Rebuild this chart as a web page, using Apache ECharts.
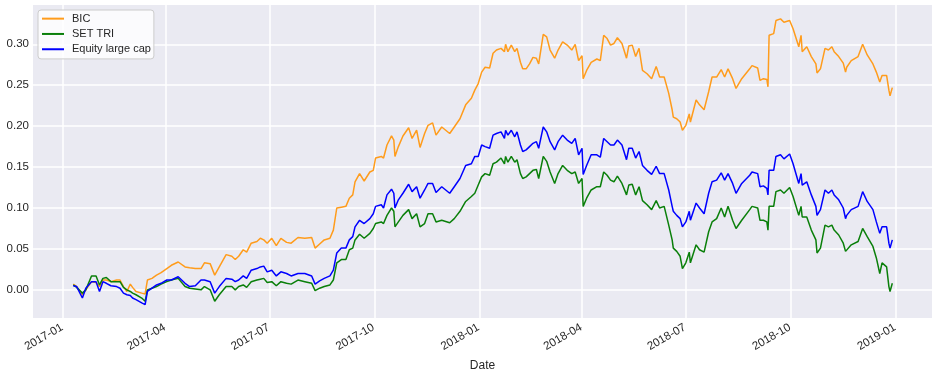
<!DOCTYPE html>
<html>
<head>
<meta charset="utf-8">
<script src="https://cdn.jsdelivr.net/npm/echarts@6/dist/echarts.min.js"></script>
<style>
html,body{margin:0;padding:0;background:#ffffff;}
#chart{width:936px;height:374px;}
</style>
</head>
<body>
<div id="chart"></div>
<script>
var dates = [
'2017-01-10','2017-01-13','2017-01-18','2017-01-21','2017-01-26','2017-01-30','2017-02-02','2017-02-05','2017-02-08','2017-02-12',
'2017-02-17','2017-02-20','2017-02-23','2017-02-26','2017-03-01','2017-03-03','2017-03-06','2017-03-11','2017-03-14','2017-03-16',
'2017-03-20','2017-03-24','2017-03-28','2017-04-02','2017-04-06','2017-04-12','2017-04-18','2017-04-22','2017-04-27','2017-05-02',
'2017-05-05','2017-05-10','2017-05-14','2017-05-18','2017-05-24','2017-05-29','2017-06-01','2017-06-04','2017-06-08','2017-06-11',
'2017-06-15','2017-06-20','2017-06-23','2017-06-26','2017-06-29','2017-07-03','2017-07-07','2017-07-11','2017-07-16','2017-07-20',
'2017-07-26','2017-08-01','2017-08-07','2017-08-10','2017-08-14','2017-08-18','2017-08-23','2017-08-26','2017-08-29','2017-09-02',
'2017-09-06','2017-09-09','2017-09-12','2017-09-14','2017-09-18','2017-09-22','2017-09-27','2017-09-30','2017-10-02','2017-10-07',
'2017-10-09','2017-10-12','2017-10-16','2017-10-18','2017-10-19','2017-10-22','2017-10-26','2017-10-31','2017-11-03','2017-11-07',
'2017-11-10','2017-11-14','2017-11-17','2017-11-21','2017-11-24','2017-11-29','2017-12-06','2017-12-10','2017-12-15','2017-12-20',
'2017-12-25','2017-12-28','2017-12-31','2018-01-03','2018-01-06','2018-01-10','2018-01-13','2018-01-16','2018-01-20','2018-01-23',
'2018-01-24','2018-01-26','2018-01-29','2018-02-01','2018-02-03','2018-02-06','2018-02-08','2018-02-11','2018-02-14','2018-02-17',
'2018-02-20','2018-02-22','2018-02-26','2018-03-01','2018-03-04','2018-03-08','2018-03-11','2018-03-15','2018-03-19','2018-03-23',
'2018-03-26','2018-03-29','2018-04-01','2018-04-02','2018-04-05','2018-04-09','2018-04-14','2018-04-17','2018-04-20','2018-04-23',
'2018-04-26','2018-04-29','2018-05-02','2018-05-06','2018-05-10','2018-05-12','2018-05-15','2018-05-18','2018-05-21','2018-05-24',
'2018-05-28','2018-06-01','2018-06-05','2018-06-08','2018-06-12','2018-06-16','2018-06-19','2018-06-20','2018-06-23','2018-06-26',
'2018-06-28','2018-07-01','2018-07-04','2018-07-05','2018-07-10','2018-07-13','2018-07-17','2018-07-21','2018-07-24','2018-07-28',
'2018-08-01','2018-08-04','2018-08-07','2018-08-11','2018-08-14','2018-08-19','2018-08-26','2018-08-28','2018-09-02','2018-09-04',
'2018-09-07','2018-09-10','2018-09-11','2018-09-12','2018-09-16','2018-09-18','2018-09-22','2018-09-25','2018-09-30','2018-10-03',
'2018-10-08','2018-10-10','2018-10-11','2018-10-15','2018-10-19','2018-10-23','2018-10-24','2018-10-27','2018-10-31','2018-11-03',
'2018-11-06','2018-11-08','2018-11-12','2018-11-16','2018-11-18','2018-11-19','2018-11-23','2018-11-29','2018-12-03','2018-12-07',
'2018-12-12','2018-12-15','2018-12-18','2018-12-20','2018-12-24','2018-12-26','2018-12-27','2018-12-29'
];

var bic = [
.007,.004,-.006,.000,.010,.009,.004,.012,.012,.010,
.012,.012,.004,-.002,.007,.003,-.002,-.004,-.005,.012,
.014,.018,.021,.026,.030,.034,.028,.027,.026,.026,
.033,.032,.018,.028,.043,.041,.037,.041,.049,.046,
.057,.059,.063,.061,.057,.063,.054,.063,.058,.057,
.064,.063,.064,.051,.056,.061,.063,.073,.100,.101,
.102,.112,.116,.132,.142,.133,.144,.146,.161,.163,
.161,.177,.188,.183,.163,.175,.188,.198,.185,.195,
.174,.191,.201,.204,.189,.199,.191,.199,.209,.226,
.234,.244,.252,.266,.272,.271,.289,.293,.295,.291,
.300,.291,.299,.291,.295,.278,.270,.270,.276,.284,
.283,.276,.312,.309,.293,.283,.293,.303,.299,.293,
.300,.280,.286,.258,.268,.278,.282,.280,.311,.307,
.299,.301,.308,.301,.283,.298,.299,.285,.295,.268,
.264,.258,.273,.260,.260,.240,.220,.211,.209,.205,
.195,.201,.215,.205,.232,.226,.220,.242,.260,.260,
.269,.260,.270,.258,.246,.258,.270,.274,.271,.256,
.258,.257,.248,.311,.313,.329,.331,.327,.329,.319,
.297,.311,.291,.297,.285,.276,.265,.270,.295,.293,
.297,.291,.285,.277,.266,.272,.280,.285,.300,.287,
.276,.266,.254,.262,.262,.244,.237,.247
];

var setTri = [
.006,.003,-.004,.000,.017,.017,.006,.014,.015,.010,
.010,.010,.003,.000,-.002,-.004,-.006,-.010,-.014,.000,
.002,.004,.007,.010,.012,.014,.004,.002,.001,.000,
.004,.000,-.014,-.006,.004,.004,.000,.004,.006,.003,
.010,.012,.013,.014,.009,.010,.005,.010,.008,.007,
.012,.010,.008,-.001,.002,.004,.006,.012,.033,.037,
.037,.049,.051,.061,.068,.063,.069,.075,.081,.083,
.081,.091,.100,.096,.077,.083,.091,.098,.087,.093,
.077,.081,.093,.093,.083,.085,.082,.087,.096,.108,
.114,.118,.128,.138,.142,.140,.154,.156,.161,.154,
.163,.156,.163,.156,.159,.142,.136,.138,.142,.146,
.147,.136,.163,.157,.144,.130,.142,.152,.146,.142,
.144,.130,.136,.102,.112,.122,.126,.126,.144,.140,
.134,.132,.139,.130,.116,.128,.129,.116,.126,.109,
.104,.098,.109,.100,.102,.079,.061,.051,.047,.041,
.026,.033,.046,.033,.055,.049,.046,.071,.083,.087,
.100,.089,.102,.085,.075,.085,.098,.102,.100,.085,
.085,.083,.073,.102,.102,.120,.122,.118,.125,.114,
.091,.102,.089,.089,.073,.061,.045,.051,.079,.077,
.079,.073,.067,.057,.047,.049,.055,.059,.075,.065,
.053,.039,.020,.033,.028,.004,-.002,.008
];

var equity = [
.005,.004,-.010,.002,.010,.010,-.002,.010,.008,.005,
.004,.002,-.004,-.006,-.007,-.010,-.012,-.016,-.018,-.002,
.002,.006,.008,.012,.012,.016,.008,.004,.005,.012,
.012,.010,-.004,.004,.014,.013,.010,.012,.017,.014,
.024,.026,.028,.029,.022,.024,.017,.022,.020,.017,
.020,.020,.017,.007,.011,.014,.017,.024,.045,.051,
.051,.061,.065,.077,.085,.081,.087,.093,.102,.104,
.100,.116,.123,.118,.100,.110,.118,.129,.120,.126,
.112,.122,.130,.130,.119,.126,.118,.126,.136,.152,
.154,.163,.163,.177,.175,.173,.189,.191,.193,.185,
.195,.189,.195,.187,.193,.177,.169,.171,.175,.179,
.181,.173,.199,.193,.181,.171,.181,.189,.183,.179,
.185,.165,.173,.141,.152,.165,.165,.162,.185,.181,
.177,.177,.183,.177,.159,.173,.173,.161,.169,.152,
.146,.141,.151,.142,.142,.122,.102,.096,.091,.087,
.077,.083,.096,.085,.106,.100,.093,.118,.132,.134,
.143,.134,.142,.130,.118,.130,.140,.144,.142,.126,
.127,.124,.116,.146,.146,.163,.165,.160,.166,.154,
.130,.142,.128,.132,.116,.102,.091,.098,.122,.118,
.122,.116,.110,.100,.087,.091,.098,.102,.120,.108,
.098,.083,.069,.077,.077,.057,.051,.061
];

var seriesNames = ['BIC', 'SET TRI', 'Equity large cap'];
var seriesColors = ['#FF9C1C', '#0A7F0A', '#0000FF'];
var xTickDates = ['2017-01-01','2017-04-01','2017-07-01','2017-10-01','2018-01-01','2018-04-01','2018-07-01','2018-10-01','2019-01-01'];
var yTicks = [0, 0.05, 0.10, 0.15, 0.20, 0.25, 0.30];

function toTime(s) {
  var p = s.split('-');
  return +new Date(+p[0], +p[1] - 1, +p[2]);
}
function zip(xs, ys) {
  var out = [];
  for (var i = 0; i < xs.length; i++) out.push([toTime(xs[i]), ys[i]]);
  return out;
}
function pad2(n) { return (n < 10 ? '0' : '') + n; }

var FONT = "Arial, 'Liberation Sans', sans-serif";
var TXT = '#262626';

var chart = echarts.init(document.getElementById('chart'), null, {renderer: 'canvas'});
var values = [bic, setTri, equity];
var series = seriesNames.map(function (name, i) {
  return {
    name: name,
    type: 'line',
    data: zip(dates, values[i]),
    symbol: 'none',
    showSymbol: false,
    lineStyle: {width: 1.5, color: seriesColors[i]},
    itemStyle: {color: seriesColors[i]},
    emphasis: {disabled: true},
    animation: false
  };
});
var xTickValues = xTickDates.map(toTime);

chart.setOption({
  animation: false,
  backgroundColor: '#ffffff',
  grid: {
    left: 33, right: 4, top: 5, bottom: 56,
    containLabel: false,
    outerBoundsMode: 'none',
    show: true, backgroundColor: '#EAEAF2', borderWidth: 0
  },
  legend: {
    data: seriesNames,
    orient: 'vertical',
    left: 38, top: 10,
    padding: [1, 3, 2, 4],
    itemGap: 0,
    itemWidth: 22,
    itemHeight: 2,
    icon: 'rect',
    backgroundColor: 'rgba(255,255,255,0.8)',
    borderColor: '#cccccc',
    borderWidth: 1,
    borderRadius: 3,
    textStyle: {fontFamily: FONT, fontSize: 11, color: TXT, lineHeight: 15.3, padding: [0, 0, 0, 3]}
  },
  xAxis: {
    type: 'value',
    min: +new Date(2016, 11, 5, 17),
    max: +new Date(2019, 1, 1, 19),
    name: 'Date',
    nameLocation: 'middle',
    nameGap: 38,
    nameTextStyle: {fontFamily: FONT, fontSize: 12, color: TXT},
    axisLine: {show: false},
    axisTick: {show: false, customValues: xTickValues},
    splitLine: {show: true, lineStyle: {color: '#ffffff', width: 1.5}},
    axisLabel: {
      customValues: xTickValues,
      rotate: 30,
      margin: 8,
      padding: [0, 1, 0, 0],
      fontFamily: FONT, fontSize: 11.5, color: TXT,
      formatter: function (v) {
        var d = new Date(v);
        return d.getFullYear() + '-' + pad2(d.getMonth() + 1);
      }
    }
  },
  yAxis: {
    type: 'value',
    min: -0.0344,
    max: 0.348,
    axisLine: {show: false},
    axisTick: {show: false, customValues: yTicks},
    splitLine: {show: true, lineStyle: {color: '#ffffff', width: 1.5}},
    axisLabel: {
      customValues: yTicks,
      margin: 4,
      fontFamily: FONT, fontSize: 11.5, color: TXT,
      formatter: function (v) { return v.toFixed(2); }
    }
  },
  series: series
});
</script>
</body>
</html>
